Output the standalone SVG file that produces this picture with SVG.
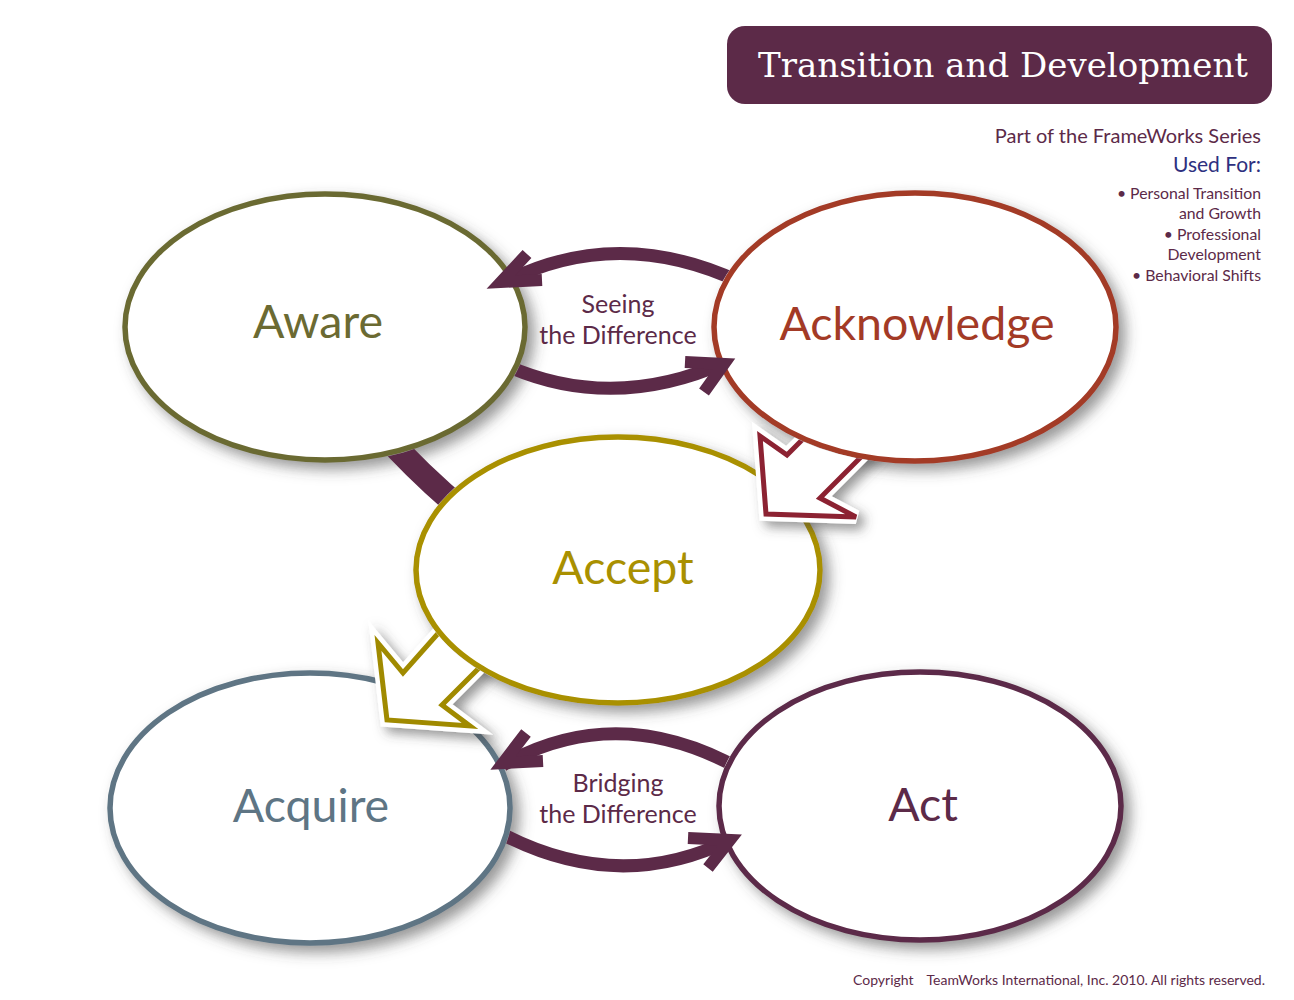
<svg xmlns="http://www.w3.org/2000/svg" xmlns:xlink="http://www.w3.org/1999/xlink" width="1294" height="1000" viewBox="0 0 1294 1000">
<style>
.node{fill:#fff;stroke-width:5.5;filter:url(#sh)}
.lbl{font-family:Lato,"Open Sans",sans-serif;font-size:46.5px;text-anchor:middle}
.sub{font-family:Lato,"Open Sans",sans-serif;font-size:25px;fill:#5c2a48;text-anchor:middle}
.side{font-family:Lato,"Open Sans",sans-serif;fill:#5c2a48;text-anchor:end}
.arc{fill:none;stroke:#5c2a48;stroke-width:13}
.head{fill:none;stroke:#5c2a48;stroke-width:12;stroke-linejoin:miter;stroke-miterlimit:10}
</style>
<defs>
<filter id="sh" x="-20%" y="-20%" width="140%" height="140%">
<feDropShadow dx="7" dy="7" stdDeviation="7" flood-color="#444" flood-opacity="0.55"/>
</filter>
<filter id="sh2" filterUnits="userSpaceOnUse" x="0" y="0" width="1294" height="1000">
<feDropShadow dx="6" dy="6" stdDeviation="6" flood-color="#444" flood-opacity="0.55"/>
</filter>
<mask id="mSee" maskUnits="userSpaceOnUse" x="0" y="0" width="1294" height="1000">
<rect width="1294" height="1000" fill="#fff"/>
<ellipse cx="325" cy="327" rx="203" ry="136" fill="#000"/>
<ellipse cx="915" cy="327" rx="204" ry="137" fill="#000"/>
</mask>
<mask id="mBri" maskUnits="userSpaceOnUse" x="0" y="0" width="1294" height="1000">
<rect width="1294" height="1000" fill="#fff"/>
<ellipse cx="310" cy="808" rx="203" ry="138" fill="#000"/>
<ellipse cx="920" cy="806" rx="204" ry="137" fill="#000"/>
</mask>
<mask id="mBand" maskUnits="userSpaceOnUse" x="0" y="0" width="1294" height="1000">
<rect width="1294" height="1000" fill="#fff"/>
<ellipse cx="325" cy="327" rx="203" ry="136" fill="#000"/>
<ellipse cx="618" cy="570" rx="205" ry="136" fill="#000"/>
</mask>
<mask id="mAck" maskUnits="userSpaceOnUse" x="0" y="0" width="1294" height="1000">
<rect width="1294" height="1000" fill="#fff"/>
<ellipse cx="915" cy="327" rx="204" ry="137" fill="#000"/>
</mask>
<mask id="mAcc" maskUnits="userSpaceOnUse" x="0" y="0" width="1294" height="1000">
<rect width="1294" height="1000" fill="#fff"/>
<ellipse cx="618" cy="570" rx="205" ry="136" fill="#000"/>
</mask>
<polygon id="arrRed" points="810,432 787,455 760,436 766,514 856,517 820,498 868,450"/>
<polygon id="arrGold" points="450,620 403,673 378,643 387,720 470,726 442,705 495,652"/>
</defs>

<rect width="1294" height="1000" fill="#fff"/>

<g id="title">
<rect x="727" y="26" width="545" height="78" rx="18" fill="#5c2a48"/>
<text x="758" y="77" font-family="DejaVu Serif,serif" font-size="34" fill="#fff" textLength="490" lengthAdjust="spacingAndGlyphs">Transition and Development</text>
</g>

<g id="info">
<text class="side" x="1261" y="143" font-size="20">Part of the FrameWorks Series</text>
<text class="side" x="1261" y="172" font-size="21" style="fill:#2e3080">Used For:</text>
<text class="side" x="1261" y="199" font-size="15.8">• Personal Transition</text>
<text class="side" x="1261" y="219" font-size="15.8">and Growth</text>
<text class="side" x="1261" y="240" font-size="15.8">• Professional</text>
<text class="side" x="1261" y="260" font-size="15.8">Development</text>
<text class="side" x="1261" y="281" font-size="15.8">• Behavioral Shifts</text>
</g>

<g id="aware">
<ellipse class="node" cx="325" cy="327" rx="200" ry="133" stroke="#6b6a32"/>
<text class="lbl" x="318" y="338" fill="#6b6a32">Aware</text>
</g>
<g id="acknowledge">
<ellipse class="node" cx="915" cy="327" rx="201" ry="134" stroke="#a33a26"/>
<text class="lbl" x="917" y="340" fill="#a33a26">Acknowledge</text>
</g>
<g id="acquire">
<ellipse class="node" cx="310" cy="808" rx="200" ry="135" stroke="#5e7584"/>
<text class="lbl" x="311" y="822" fill="#5e7584">Acquire</text>
</g>
<g id="act">
<ellipse class="node" cx="920" cy="806" rx="201" ry="134" stroke="#5c2a48"/>
<text class="lbl" x="923" y="821" fill="#5c2a48">Act</text>
</g>
<g id="accept">
<ellipse class="node" cx="618" cy="570" rx="202" ry="133" stroke="#a99000"/>
<text class="lbl" x="623" y="584" fill="#a99000">Accept</text>
</g>

<g id="connectors">
<path class="arc" mask="url(#mSee)" d="M 740,282 Q 618,225 505,282"/>
<polyline class="head" points="527,254 501,282 542,280"/>
<path class="arc" mask="url(#mSee)" d="M 505,365 Q 612,413 726,362"/>
<polyline class="head" points="685,362 724,364 704,392"/>
<path class="arc" mask="url(#mBri)" d="M 742,770 Q 618,700 503,765"/>
<polyline class="head" points="526,733 503,763 543,761"/>
<path class="arc" mask="url(#mBri)" d="M 498,832 Q 618,896 732,839"/>
<polyline class="head" points="688,838 730,840 708,868"/>
<path d="M 378,428 Q 420,475 465,512" fill="none" stroke="#5c2a48" stroke-width="24" mask="url(#mBand)"/>
<g mask="url(#mAck)">
<g filter="url(#sh2)">
<use xlink:href="#arrRed" fill="#fff" stroke="#fff" stroke-width="14" stroke-linejoin="miter"/>
<use xlink:href="#arrRed" fill="#fff" stroke="#8c2232" stroke-width="5" stroke-linejoin="miter"/>
</g>
</g>
<g mask="url(#mAcc)">
<g filter="url(#sh2)">
<use xlink:href="#arrGold" fill="#fff" stroke="#fff" stroke-width="14" stroke-linejoin="miter"/>
<use xlink:href="#arrGold" fill="#fff" stroke="#a08a00" stroke-width="5" stroke-linejoin="miter"/>
</g>
</g>
</g>

<g id="labels">
<text class="sub" x="618" y="313">Seeing</text>
<text class="sub" x="618" y="344">the Difference</text>
<text class="sub" x="618" y="792">Bridging</text>
<text class="sub" x="618" y="823">the Difference</text>
</g>

<g id="footer">
<text x="853" y="985" font-family="Lato,'Open Sans',sans-serif" font-size="14" fill="#5c2a48">Copyright</text>
<text x="1265" y="985" font-family="Lato,'Open Sans',sans-serif" font-size="14" fill="#5c2a48" text-anchor="end">TeamWorks International, Inc. 2010. All rights reserved.</text>
</g>
</svg>
